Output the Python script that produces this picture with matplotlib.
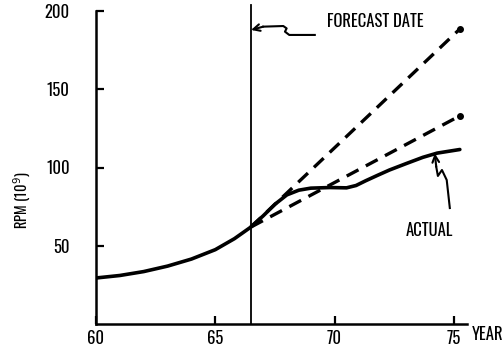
import numpy as np
import matplotlib
matplotlib.use("Agg")
import matplotlib.pyplot as plt

plt.rcParams['font.family'] = ['Oswald', 'DejaVu Sans']
plt.rcParams['font.weight'] = 'medium'

# actual RPM curve (year, RPM in 10^9)
actual_year = [60.0, 61.0, 62.0, 63.0, 64.0, 65.0, 65.8, 66.45, 67.0, 67.5, 68.0, 68.5,
               69.0, 69.8, 70.5, 70.9, 71.3, 71.8, 72.3, 73.0, 73.7, 74.3, 75.25]
actual_rpm = [29.4, 31.0, 33.5, 37.0, 41.5, 47.5, 54.5, 61.5, 69.0, 76.5, 82.5, 85.5,
              86.8, 87.2, 87.0, 88.5, 91.5, 95.0, 98.4, 102.5, 106.5, 109.2, 111.5]

# forecasts made at the forecast date
forecast_date = 66.5
forecast_year = [66.5, 75.25]
forecast_high = [62.0, 188.5]
forecast_low = [62.0, 133.0]

x_ticks = [60, 65, 70, 75]
y_ticks = [50, 100, 150, 200]

W, H = 503, 352
fig = plt.figure(figsize=(W / 100, H / 100), dpi=100)
ax = fig.add_axes([96 / W, 28 / H, 371 / W, 313 / H])
ax.set_xlim(60, 75.55)
ax.set_ylim(0, 200)

for side in ['top', 'right']:
    ax.spines[side].set_visible(False)
for side in ['left', 'bottom']:
    ax.spines[side].set_linewidth(1.8)

ax.set_xticks(x_ticks)
ax.set_yticks(y_ticks)
ax.tick_params(direction='in', length=6, width=1.6, labelsize=12, pad=4)
ax.tick_params(axis='y', pad=19)

# forecast date marker
ax.axvline(forecast_date, ymax=1.02, color='black', lw=1.3, clip_on=False)

# forecasts
ax.plot(forecast_year, forecast_high, color='black', lw=2.4, ls=(0, (4, 2.5)))
ax.plot(forecast_year, forecast_low, color='black', lw=2.4, ls=(0, (4, 2.5)))
ax.plot([forecast_year[-1]] * 2, [forecast_high[-1], forecast_low[-1]],
        'o', color='black', ms=4)

# actual
ax.plot(actual_year, actual_rpm, color='black', lw=2.6,
        solid_capstyle='round', solid_joinstyle='round')

# "FORECAST DATE" label with squiggly arrow
fx = [69.17, 68.10, 67.92, 67.99, 67.85, 67.01]
fy = [184.7, 184.7, 186.8, 188.9, 190.4, 190.0]
ax.plot(fx, fy, color='black', lw=1.5)
ax.annotate('', xy=(66.5, 187.9), xytext=(fx[-1], fy[-1]),
            arrowprops=dict(arrowstyle='->', lw=1.5, color='black',
                            mutation_scale=12, shrinkA=0, shrinkB=0))
ax.text(69.68, 193, 'FORECAST DATE', fontsize=12, va='center', ha='left')

# "ACTUAL" label with squiggly arrow
axx = [74.83, 74.70, 74.50, 74.33, 74.26]
axy = [74.1, 92.0, 98.4, 94.6, 100.5]
ax.plot(axx, axy, color='black', lw=1.5)
ax.annotate('', xy=(74.2, 109.0), xytext=(axx[-1], axy[-1]),
            arrowprops=dict(arrowstyle='->', lw=1.5, color='black',
                            mutation_scale=12, shrinkA=0, shrinkB=0))
ax.text(73.99, 60, 'ACTUAL', fontsize=12, va='center', ha='center')

fig.text(472 / W, 1 - 334 / H, 'YEAR', fontsize=12, va='center', ha='left')
fig.text(22 / W, 1 - 200 / H, 'RPM (10$^9$)', fontsize=10.5, rotation=90,
         va='center', ha='center')

fig.savefig('out.png', dpi=100)
